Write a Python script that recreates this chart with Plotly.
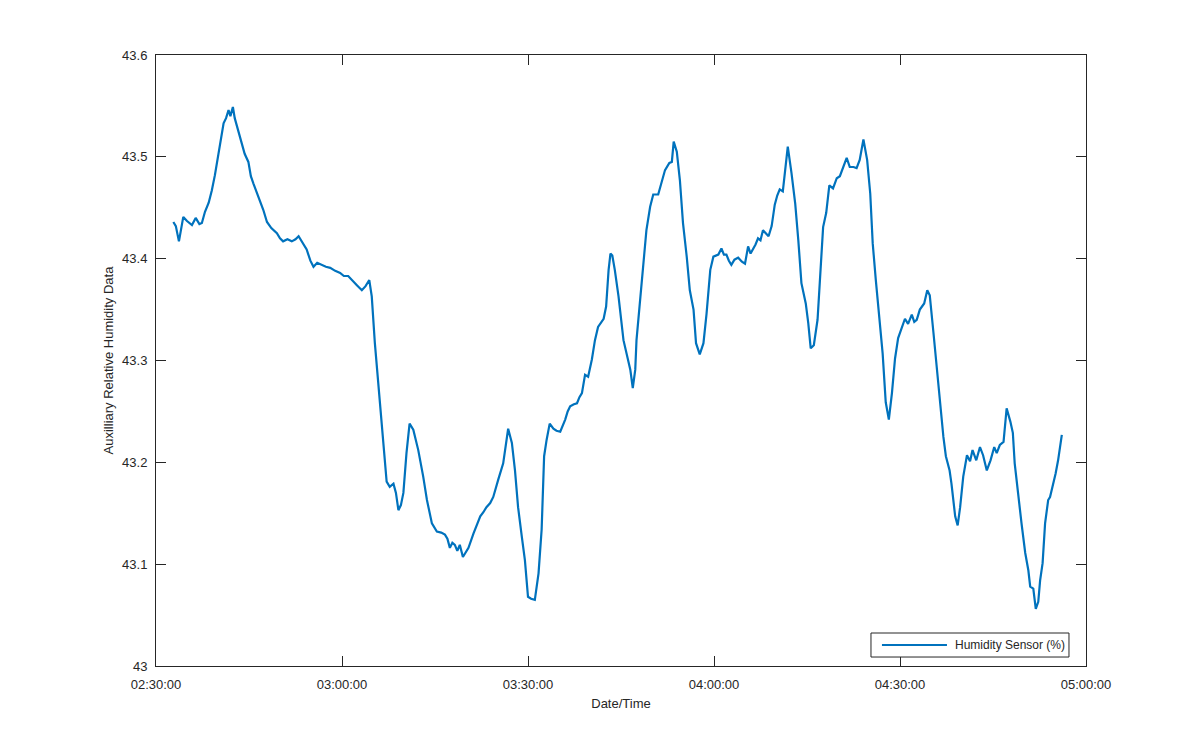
"""Auxiliary humidity sensor trace, MATLAB-style single panel."""
import pandas as pd
import plotly.graph_objects as go

START = "2015-06-01 02:30:00"
AXIS_END = "2015-06-01 05:00:00"

# minutes after 02:30:00
minutes = [
    2.8, 3.2, 3.7, 4.4, 5.0, 5.8, 6.4, 7.0, 7.4, 7.9, 8.5, 9.0, 9.5, 10.0,
    10.5, 10.9, 11.3, 11.7, 12.0, 12.4, 12.7, 13.2, 13.8, 14.3, 14.9, 15.3,
    15.7, 16.2, 16.8, 17.3, 17.9, 18.6, 19.5, 20.0, 20.5, 21.2, 21.9, 22.5,
    23.0, 23.6, 24.3, 24.9, 25.4, 26.0, 26.7, 27.4, 28.1, 28.9, 29.7, 30.3,
    31.0, 31.7, 32.4, 33.2, 33.8, 34.4, 34.8, 35.3, 35.9, 36.4, 36.9, 37.2,
    37.7, 38.3, 38.7, 39.1, 39.5, 39.9, 40.4, 40.9, 41.5, 42.3, 43.1, 43.7,
    44.5, 45.3, 46.0, 46.6, 47.0, 47.4, 47.8, 48.2, 48.6, 49.0, 49.5, 50.0,
    50.4, 51.2, 51.7, 52.3, 52.8, 53.3, 53.9, 54.4, 55.2, 56.0, 56.8, 57.4,
    57.9, 58.4, 59.0, 59.5, 60.0, 60.5, 61.1, 61.7, 62.2, 62.6, 63.0, 63.5,
    64.1, 64.6, 65.2, 65.6, 66.0, 66.4, 66.8, 67.4, 67.9, 68.3, 68.7, 69.2,
    69.7, 70.3, 70.8, 71.3, 72.2, 72.6, 73.0, 73.3, 73.6, 74.0, 74.6, 75.4,
    75.9, 76.5, 76.9, 77.3, 77.5, 78.1, 78.6, 79.1, 79.7, 80.2, 81.0, 81.6,
    82.1, 82.8, 83.2, 83.5, 84.0, 84.5, 85.0, 85.6, 86.1, 86.7, 87.1, 87.7,
    88.3, 88.8, 89.4, 89.9, 90.7, 91.2, 91.6, 92.0, 92.4, 92.8, 93.3, 93.9,
    94.5, 95.0, 95.5, 95.9, 96.3, 96.7, 97.1, 97.5, 97.9, 98.4, 98.8, 99.3,
    99.8, 100.2, 100.6, 101.1, 101.5, 101.9, 102.5, 103.1, 103.6, 104.1,
    104.8, 105.2, 105.6, 106.1, 106.7, 107.1, 107.6, 108.1, 108.6, 109.2,
    109.8, 110.3, 110.8, 111.4, 111.9, 112.5, 113.0, 113.5, 114.1, 114.7,
    115.2, 115.6, 116.1, 116.7, 117.2, 117.7, 118.2, 118.7, 119.2, 119.7,
    120.3, 120.8, 121.3, 121.9, 122.3, 122.7, 123.2, 123.9, 124.4, 124.8,
    125.4, 125.9, 126.5, 127.0, 127.4, 128.0, 128.3, 128.9, 129.3, 129.7,
    130.2, 130.8, 131.3, 131.7, 132.3, 132.9, 133.4, 134.0, 134.6, 135.2,
    135.6, 136.1, 136.7, 137.2, 137.8, 138.2, 138.5, 139.1, 139.6, 140.2,
    140.7, 141.0, 141.5, 141.9, 142.3, 142.6, 143.0, 143.4, 143.9, 144.2,
    144.6, 145.1, 145.5, 146.1,
]

humidity = [
    43.436, 43.432, 43.417, 43.441, 43.437, 43.433, 43.440, 43.434, 43.435,
    43.446, 43.455, 43.467, 43.482, 43.500, 43.518, 43.533, 43.538, 43.546,
    43.540, 43.549, 43.538, 43.527, 43.513, 43.503, 43.495, 43.481, 43.474,
    43.466, 43.458, 43.448, 43.436, 43.430, 43.425, 43.420, 43.417, 43.419,
    43.417, 43.419, 43.422, 43.416, 43.409, 43.398, 43.392, 43.396, 43.394,
    43.392, 43.391, 43.388, 43.386, 43.383, 43.383, 43.378, 43.374, 43.369,
    43.373, 43.379, 43.363, 43.317, 43.274, 43.242, 43.202, 43.181, 43.176,
    43.179, 43.170, 43.153, 43.158, 43.170, 43.209, 43.238, 43.232, 43.212,
    43.186, 43.163, 43.140, 43.132, 43.131, 43.129, 43.125, 43.116, 43.121,
    43.119, 43.113, 43.119, 43.107, 43.112, 43.116, 43.130, 43.137, 43.147,
    43.151, 43.156, 43.160, 43.166, 43.183, 43.199, 43.233, 43.219, 43.192,
    43.156, 43.127, 43.104, 43.068, 43.066, 43.065, 43.091, 43.134, 43.206,
    43.222, 43.238, 43.233, 43.231, 43.230, 43.236, 43.242, 43.250, 43.255,
    43.257, 43.258, 43.264, 43.268, 43.286, 43.284, 43.301, 43.320, 43.333,
    43.341, 43.353, 43.389, 43.405, 43.403, 43.389, 43.363, 43.320, 43.307,
    43.291, 43.273, 43.291, 43.320, 43.359, 43.399, 43.428, 43.451, 43.463,
    43.463, 43.476, 43.487, 43.494, 43.495, 43.515, 43.505, 43.477, 43.435,
    43.402, 43.369, 43.350, 43.317, 43.306, 43.317, 43.346, 43.389, 43.402,
    43.404, 43.410, 43.404, 43.404, 43.398, 43.394, 43.399, 43.401, 43.397,
    43.395, 43.412, 43.405, 43.409, 43.414, 43.420, 43.418, 43.428, 43.424,
    43.422, 43.432, 43.453, 43.462, 43.468, 43.466, 43.487, 43.510, 43.484,
    43.454, 43.418, 43.376, 43.356, 43.337, 43.312, 43.315, 43.340, 43.379,
    43.431, 43.445, 43.472, 43.469, 43.479, 43.481, 43.489, 43.499, 43.490,
    43.490, 43.489, 43.497, 43.517, 43.497, 43.464, 43.415, 43.379, 43.340,
    43.307, 43.259, 43.242, 43.268, 43.302, 43.322, 43.333, 43.341, 43.336,
    43.345, 43.338, 43.340, 43.350, 43.356, 43.369, 43.364, 43.327, 43.294,
    43.258, 43.225, 43.206, 43.192, 43.179, 43.147, 43.138, 43.156, 43.186,
    43.207, 43.201, 43.212, 43.202, 43.215, 43.207, 43.192, 43.202, 43.215,
    43.209, 43.217, 43.220, 43.253, 43.240, 43.229, 43.199, 43.163, 43.140,
    43.111, 43.094, 43.078, 43.076, 43.056, 43.063, 43.084, 43.101, 43.140,
    43.163, 43.166, 43.176, 43.189, 43.202, 43.227,
]

y_ticks = [43.0, 43.1, 43.2, 43.3, 43.4, 43.5, 43.6]
y_tick_labels = ["43", "43.1", "43.2", "43.3", "43.4", "43.5", "43.6"]
SERIES_NAME = "Humidity Sensor (%)"

FONT = "Liberation Sans, Arial, sans-serif"
INK = "#262626"
LINE_BLUE = "#0072BD"

t0 = pd.Timestamp(START)
times = t0 + pd.to_timedelta(minutes, unit="min")

fig = go.Figure()
fig.add_trace(go.Scatter(
    x=times, y=humidity,
    mode="lines", name=SERIES_NAME,
    line=dict(color=LINE_BLUE, width=2.2),
))

# MATLAB-like legend box in the lower-right corner (drawn by hand so the
# sample line is the long MATLAB one)
fig.add_shape(type="rect", xref="paper", yref="paper",
              x0=0.7688, x1=0.9817, y0=0.0147, y1=0.054,
              line=dict(color=INK, width=1), fillcolor="white", layer="above")
fig.add_shape(type="line", xref="paper", yref="paper",
              x0=0.7806, x1=0.8505, y0=0.0344, y1=0.0344,
              line=dict(color=LINE_BLUE, width=2.2), layer="above")
fig.add_annotation(xref="paper", yref="paper", x=0.857, y=0.0344,
                   xanchor="left", yanchor="middle", showarrow=False,
                   text=SERIES_NAME, font=dict(size=12, color=INK))

fig.update_layout(
    width=1200, height=750,
    paper_bgcolor="white", plot_bgcolor="white",
    margin=dict(l=148, r=122, t=47, b=92),
    font=dict(family=FONT, size=13, color=INK),
    showlegend=False,
)
fig.update_xaxes(
    range=[t0, pd.Timestamp(AXIS_END)], autorange=False,
    dtick=30 * 60 * 1000, tick0=t0, tickformat="%H:%M:%S",
    showgrid=False, zeroline=False,
    showline=True, linecolor=INK, linewidth=1, mirror="ticks",
    ticks="inside", ticklen=10, tickcolor=INK, ticklabelstandoff=6,
    title=dict(text="Date/Time", standoff=8, font=dict(size=13)),
)
fig.update_yaxes(
    range=[43, 43.6], autorange=False,
    tickvals=y_ticks, ticktext=y_tick_labels,
    showgrid=False, zeroline=False,
    showline=True, linecolor=INK, linewidth=1, mirror="ticks",
    ticks="inside", ticklen=10, tickcolor=INK, ticklabelstandoff=5,
    title=dict(text="Auxilliary Relative Humidity Data", standoff=5,
               font=dict(size=13)),
)

fig.write_html("out.html")
